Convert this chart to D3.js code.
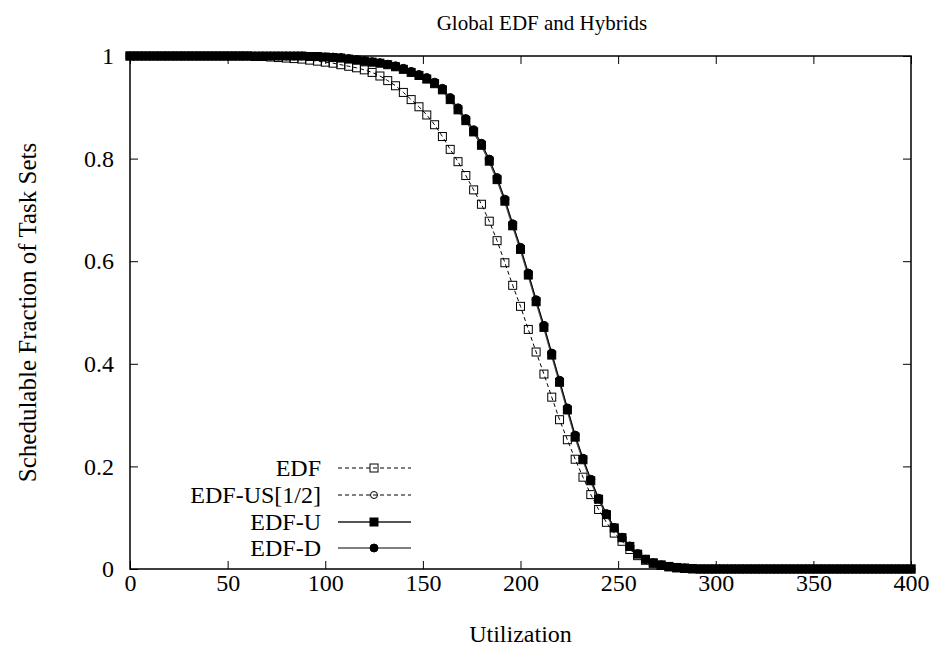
<!DOCTYPE html>
<html>
<head>
<meta charset="utf-8">
<script src="https://cdn.jsdelivr.net/npm/d3@7"></script>
<style>
  body { margin: 0; background: #fff; }
  svg { display: block; }
  svg text { font-family: "Liberation Serif", "Times New Roman", Times, "DejaVu Serif", serif; fill: #000; }
</style>
</head>
<body>
<svg width="937" height="654" font-family="Liberation Serif, Times New Roman, serif"></svg>
<script>
// utilization sampled every 4 units
const utilization = d3.range(0, 401, 4);

const edf = [
  1, 1, 1, 1, 1, 1, 1, 1, 1, 1, 1, 1, 1, 1, 1, 1,
  0.999, 0.999, 0.998, 0.997, 0.996, 0.995, 0.994, 0.992, 0.99, 0.988,
  0.986, 0.983, 0.98, 0.977, 0.973, 0.968, 0.961, 0.952, 0.942, 0.929,
  0.915, 0.901, 0.885, 0.866, 0.843, 0.818, 0.794, 0.767, 0.739, 0.711,
  0.678, 0.64, 0.597, 0.553, 0.512, 0.467, 0.423, 0.38, 0.335, 0.291,
  0.252, 0.214, 0.179, 0.145, 0.116, 0.091, 0.07, 0.054, 0.038, 0.026,
  0.017, 0.011, 0.007, 0.004, 0.002, 0.001,
  0, 0, 0, 0, 0, 0, 0, 0, 0, 0, 0, 0, 0, 0, 0, 0, 0, 0, 0, 0, 0, 0, 0, 0, 0, 0, 0, 0, 0
];

const edfUS = [
  1, 1, 1, 1, 1, 1, 1, 1, 1, 1, 1, 1, 1, 1, 1, 1, 1, 1, 1, 1, 1, 1, 1,
  0.999, 0.999, 0.998, 0.997, 0.996, 0.994, 0.992, 0.99, 0.988, 0.986,
  0.983, 0.979, 0.974, 0.968, 0.962, 0.955, 0.946, 0.934, 0.915, 0.895,
  0.874, 0.852, 0.826, 0.795, 0.759, 0.717, 0.669, 0.623, 0.573, 0.521,
  0.471, 0.417, 0.364, 0.31, 0.257, 0.213, 0.172, 0.136, 0.106, 0.08,
  0.061, 0.044, 0.029, 0.019, 0.012, 0.008, 0.005, 0.003, 0.002, 0.001,
  0, 0, 0, 0, 0, 0, 0, 0, 0, 0, 0, 0, 0, 0, 0, 0, 0, 0, 0, 0, 0, 0, 0, 0, 0, 0, 0, 0
];

const edfU = [
  1, 1, 1, 1, 1, 1, 1, 1, 1, 1, 1, 1, 1, 1, 1, 1, 1, 1, 1, 1, 1, 1, 1,
  0.999, 0.999, 0.998, 0.997, 0.996, 0.994, 0.992, 0.99, 0.988, 0.986,
  0.983, 0.979, 0.974, 0.968, 0.962, 0.955, 0.946, 0.934, 0.915, 0.895,
  0.874, 0.852, 0.826, 0.795, 0.759, 0.717, 0.669, 0.623, 0.573, 0.521,
  0.471, 0.417, 0.364, 0.31, 0.257, 0.213, 0.172, 0.136, 0.106, 0.08,
  0.061, 0.044, 0.029, 0.019, 0.012, 0.008, 0.005, 0.003, 0.002, 0.001,
  0, 0, 0, 0, 0, 0, 0, 0, 0, 0, 0, 0, 0, 0, 0, 0, 0, 0, 0, 0, 0, 0, 0, 0, 0, 0, 0, 0
];

const edfD = [
  1, 1, 1, 1, 1, 1, 1, 1, 1, 1, 1, 1, 1, 1, 1, 1, 1, 1, 1, 1, 1, 1, 1,
  0.999, 0.999, 0.998, 0.998, 0.997, 0.995, 0.993, 0.991, 0.989, 0.987,
  0.984, 0.981, 0.976, 0.970, 0.964, 0.958, 0.949, 0.937, 0.919, 0.899,
  0.878, 0.856, 0.830, 0.799, 0.763, 0.721, 0.673, 0.627, 0.577, 0.525,
  0.475, 0.421, 0.368, 0.314, 0.261, 0.216, 0.175, 0.138, 0.108, 0.081,
  0.062, 0.045, 0.030, 0.019, 0.012, 0.008, 0.005, 0.003, 0.002, 0.001,
  0, 0, 0, 0, 0, 0, 0, 0, 0, 0, 0, 0, 0, 0, 0, 0, 0, 0, 0, 0, 0, 0, 0, 0, 0, 0, 0, 0
];

const xTicks = [0, 50, 100, 150, 200, 250, 300, 350, 400];
const yTicks = [0, 0.2, 0.4, 0.6, 0.8, 1];

const series = [
  { name: "EDF", values: edf, dash: "4,3", stroke: "#000", width: 1, marker: "square", filled: false },
  { name: "EDF-US[1/2]", values: edfUS, dash: "4,3", stroke: "#000", width: 1, marker: "circle", filled: false },
  { name: "EDF-U", values: edfU, dash: null, stroke: "#555", width: 2, marker: "square", filled: true },
  { name: "EDF-D", values: edfD, dash: null, stroke: "#000", width: 1, marker: "circle", filled: true }
];

const svg = d3.select("svg");
const margin = { top: 56, right: 26, bottom: 85, left: 130 };
const width = +svg.attr("width") - margin.left - margin.right;
const height = +svg.attr("height") - margin.top - margin.bottom;

const chart = svg.append("g")
  .attr("transform", `translate(${margin.left},${margin.top})`);

const x = d3.scaleLinear().domain([0, 400]).range([0, width]);
const y = d3.scaleLinear().domain([0, 1]).range([height, 0]);

const fontSize = 24;

// Axes (ticks point inward, mirrored on top/right)
const axes = [
  chart.append("g").attr("transform", `translate(0,${height})`)
    .call(d3.axisBottom(x).tickValues(xTicks).tickSizeInner(-8).tickSizeOuter(0).tickPadding(5)),
  chart.append("g")
    .call(d3.axisLeft(y).tickValues(yTicks).tickFormat(d3.format("")).tickSizeInner(-8).tickSizeOuter(0).tickPadding(16)),
  chart.append("g")
    .call(d3.axisTop(x).tickValues(xTicks).tickSizeInner(-8).tickSizeOuter(0).tickFormat("")),
  chart.append("g").attr("transform", `translate(${width},0)`)
    .call(d3.axisRight(y).tickValues(yTicks).tickSizeInner(-8).tickSizeOuter(0).tickFormat(""))
];
axes.forEach(a => {
  a.attr("font-family", null).attr("font-size", null);
  a.select(".domain").remove();
  a.selectAll("line").attr("stroke", "#000").attr("stroke-width", 1);
  a.selectAll("text").style("font-size", fontSize + "px").attr("fill", "#000");
});

chart.append("rect")
  .attr("width", width).attr("height", height)
  .attr("fill", "none").attr("stroke", "#000").attr("stroke-width", 1.5);

const line = d3.line()
  .x((d, i) => x(utilization[i]))
  .y(d => y(d));

function drawMarker(g, s, cx, cy) {
  if (s.marker === "square") {
    g.append("rect")
      .attr("x", cx - 4).attr("y", cy - 4).attr("width", 8).attr("height", 8)
      .attr("fill", s.filled ? "#000" : "none")
      .attr("stroke", "#000").attr("stroke-width", 1);
  } else {
    g.append("circle")
      .attr("cx", cx).attr("cy", cy).attr("r", s.filled ? 4 : 3.5)
      .attr("fill", s.filled ? "#000" : "none")
      .attr("stroke", "#000").attr("stroke-width", 1);
  }
}

series.forEach(s => {
  const g = chart.append("g");
  g.append("path")
    .datum(s.values)
    .attr("d", line)
    .attr("fill", "none")
    .attr("stroke", s.stroke)
    .attr("stroke-width", s.width)
    .attr("stroke-dasharray", s.dash);
  s.values.forEach((v, i) => drawMarker(g, s, x(utilization[i]), y(v)));
});

// Legend
const legend = chart.append("g");
const legendRows = [468, 495, 522, 548];
series.forEach((s, i) => {
  const ly = legendRows[i] - margin.top;
  legend.append("text")
    .attr("x", 321 - margin.left).attr("y", ly)
    .attr("dy", "0.35em")
    .attr("text-anchor", "end")
    .style("font-size", fontSize + "px")
    .text(s.name);
  legend.append("line")
    .attr("x1", 338 - margin.left).attr("x2", 411 - margin.left)
    .attr("y1", ly).attr("y2", ly)
    .attr("stroke", s.stroke).attr("stroke-width", s.width)
    .attr("stroke-dasharray", s.dash);
  drawMarker(legend, s, 374 - margin.left, ly);
});

// Titles
svg.append("text")
  .attr("x", 542).attr("y", 30)
  .attr("text-anchor", "middle")
  .style("font-size", "21px")
  .text("Global EDF and Hybrids");

svg.append("text")
  .attr("x", margin.left + width / 2).attr("y", 642)
  .attr("text-anchor", "middle")
  .style("font-size", "24px")
  .text("Utilization");

svg.append("text")
  .attr("transform", `translate(36,${margin.top + height / 2}) rotate(-90)`)
  .attr("text-anchor", "middle")
  .style("font-size", "25px")
  .text("Schedulable Fraction of Task Sets");
</script>
</body>
</html>
